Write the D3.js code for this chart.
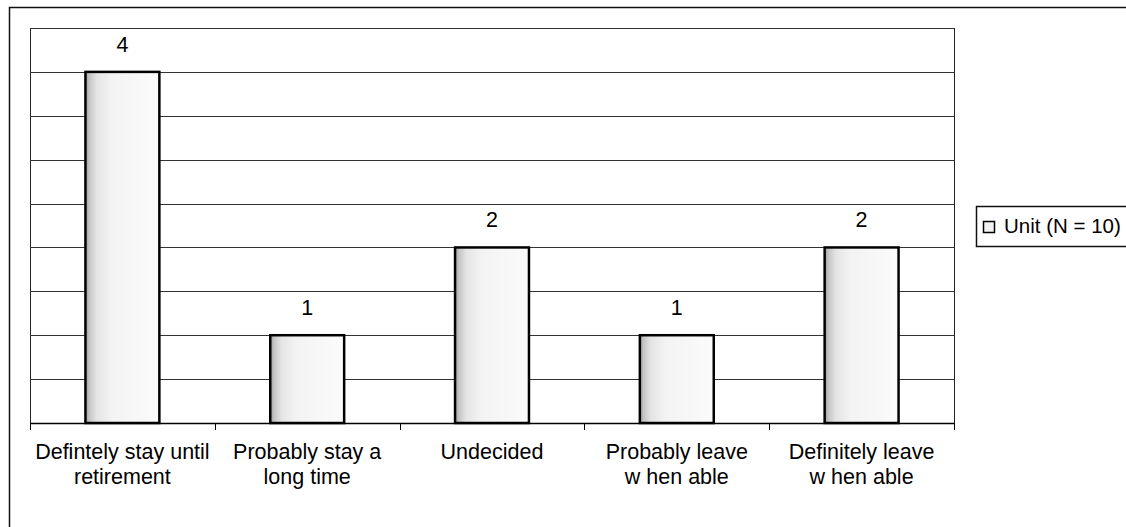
<!DOCTYPE html>
<html>
<head>
<meta charset="utf-8">
<script src="https://cdn.jsdelivr.net/npm/d3@7"></script>
<style>
html,body{margin:0;padding:0;background:#fff;}
svg{display:block;font-family:"Liberation Sans",Arial,sans-serif;}
</style>
</head>
<body>
<svg id="chart" width="1126" height="527"></svg>
<script>
const categories = [
  ["Defintely stay until", "retirement"],
  ["Probably stay a", "long time"],
  ["Undecided"],
  ["Probably leave", "w hen able"],
  ["Definitely leave", "w hen able"]
];
const values = [4, 1, 2, 1, 2];
const seriesName = "Unit (N = 10)";
const yMax = 4.5;
const gridStep = 0.5;

const svg = d3.select("#chart");
const W = 1126, H = 527;
const plot = {left: 30, top: 28, right: 954, bottom: 423};

// outer border
svg.append("rect").attr("x", 9.5).attr("y", 7.5).attr("width", W + 10).attr("height", H + 10)
  .attr("fill", "#fff").attr("stroke", "#111").attr("stroke-width", 1.5);

const defs = svg.append("defs");
const grad = defs.append("linearGradient").attr("id", "barFill").attr("x1", "0").attr("x2", "1").attr("y1", "0").attr("y2", "0");
[[0, "#9a9a9a"], [0.05, "#c4c4c4"], [0.15, "#e4e4e4"], [0.35, "#f3f3f3"], [1, "#fbfbfb"]].forEach(([o, c]) =>
  grad.append("stop").attr("offset", o).attr("stop-color", c));

const x = d3.scaleBand().domain(d3.range(categories.length)).range([plot.left, plot.right]).paddingInner(0).paddingOuter(0);
const y = d3.scaleLinear().domain([0, yMax]).range([plot.bottom, plot.top]);

// plot area frame
svg.append("rect").attr("x", plot.left + 0.5).attr("y", plot.top + 0.5)
  .attr("width", plot.right - plot.left).attr("height", plot.bottom - plot.top)
  .attr("fill", "#fff").attr("stroke", "#222").attr("stroke-width", 1);

// gridlines
const gridVals = d3.range(gridStep, yMax + 0.001, gridStep);
svg.append("g").selectAll("line").data(gridVals).join("line")
  .attr("x1", plot.left).attr("x2", plot.right)
  .attr("y1", d => Math.round(y(d)) + 0.5).attr("y2", d => Math.round(y(d)) + 0.5)
  .attr("stroke", "#333").attr("stroke-width", 1);

// bars
const bw = x.bandwidth() * 0.4;
svg.append("g").selectAll("rect").data(values).join("rect")
  .attr("x", (d, i) => x(i) + (x.bandwidth() - bw) / 2)
  .attr("y", d => y(d))
  .attr("width", bw)
  .attr("height", d => plot.bottom - y(d))
  .attr("fill", "url(#barFill)")
  .attr("stroke", "#000").attr("stroke-width", 2.5);

// value labels
svg.append("g").selectAll("text").data(values).join("text")
  .attr("x", (d, i) => x(i) + x.bandwidth() / 2)
  .attr("y", d => y(d) - 20)
  .attr("text-anchor", "middle")
  .attr("font-size", 21.5).attr("fill", "#000")
  .text(d => d);

// x axis
const xAxisLine = svg.append("g");
xAxisLine.append("line").attr("x1", plot.left).attr("x2", plot.right)
  .attr("y1", plot.bottom + 0.5).attr("y2", plot.bottom + 0.5).attr("stroke", "#000").attr("stroke-width", 1.5);
const tickPos = d3.range(categories.length + 1).map(i => i < categories.length ? x(i) : plot.right);
xAxisLine.selectAll("line.t").data(tickPos).join("line").attr("class", "t")
  .attr("x1", d => Math.round(d) + 0.5).attr("x2", d => Math.round(d) + 0.5)
  .attr("y1", plot.bottom).attr("y2", plot.bottom + 7).attr("stroke", "#000").attr("stroke-width", 1);

// category labels
const labels = svg.append("g").selectAll("text").data(categories).join("text")
  .attr("text-anchor", "middle").attr("font-size", 21.5).attr("fill", "#000");
labels.each(function(lines, i) {
  const t = d3.select(this);
  lines.forEach((ln, j) => {
    t.append("tspan").attr("x", x(i) + x.bandwidth() / 2).attr("y", 459 + j * 25).text(ln);
  });
});

// legend
const lg = svg.append("g");
lg.append("rect").attr("x", 976.5).attr("y", 206.5).attr("width", 170).attr("height", 40)
  .attr("fill", "#fff").attr("stroke", "#111").attr("stroke-width", 1.5);
lg.append("rect").attr("x", 983.5).attr("y", 221.5).attr("width", 11).attr("height", 11)
  .attr("fill", "#f2f2f2").attr("stroke", "#000").attr("stroke-width", 1.5);
lg.append("text").attr("x", 1004).attr("y", 233).attr("font-size", 20.5).attr("fill", "#000").text(seriesName);
</script>
</body>
</html>
